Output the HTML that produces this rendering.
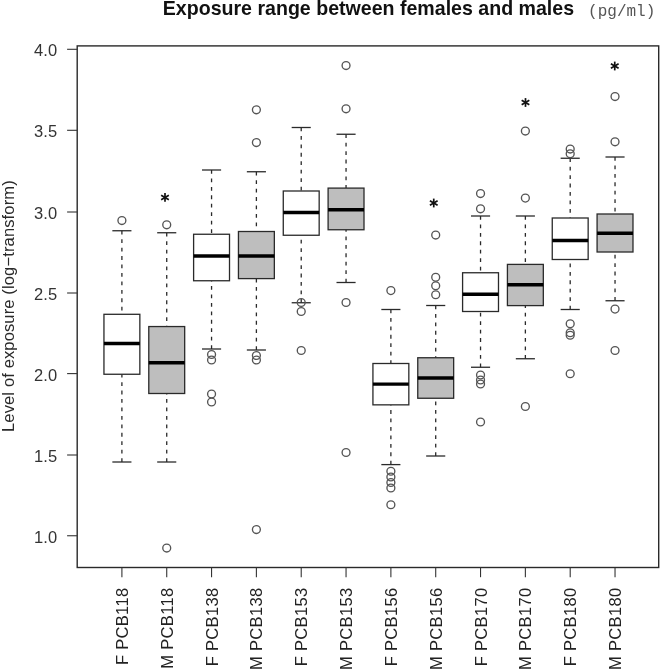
<!DOCTYPE html>
<html><head><meta charset="utf-8"><title>Exposure range between females and males</title>
<style>html,body{margin:0;padding:0;background:#fff;}body{width:660px;height:669px;overflow:hidden;}svg{display:block;will-change:transform;}text{font-family:"Liberation Sans",sans-serif;}</style></head><body>
<svg width="660" height="669" viewBox="0 0 660 669">
<rect x="0" y="0" width="660" height="669" fill="#fff"/>
<text id="title" x="368.45" y="15.4" text-anchor="middle" font-size="19.58" font-weight="bold" fill="#111">Exposure range between females and males</text>
<text id="unit" x="588.1" y="16.2" font-size="16" fill="#555" style="font-family:'Liberation Mono',monospace">(pg/ml)</text>
<text id="ylab" transform="translate(14.4,306.1) rotate(-90)" text-anchor="middle" font-size="16.5" letter-spacing="0.14" fill="#2a2a2a">Level of exposure (log−transform)</text>
<g>
<line x1="121.90" y1="230.75" x2="121.90" y2="314.3" stroke="#2a2a2a" stroke-width="1.3" stroke-dasharray="3.8 4.65"/>
<line x1="121.90" y1="462.0" x2="121.90" y2="374.25" stroke="#2a2a2a" stroke-width="1.3" stroke-dasharray="3.8 4.65"/>
<line x1="112.35" y1="230.75" x2="131.45" y2="230.75" stroke="#2a2a2a" stroke-width="1.3"/>
<line x1="112.35" y1="462.0" x2="131.45" y2="462.0" stroke="#2a2a2a" stroke-width="1.3"/>
<rect x="103.95" y="314.3" width="35.90" height="59.95" fill="#fff" stroke="#2a2a2a" stroke-width="1.3"/>
<line x1="103.95" y1="343.5" x2="139.85" y2="343.5" stroke="#000" stroke-width="3.4"/>
<circle cx="121.90" cy="220.5" r="3.95" fill="none" stroke="#555" stroke-width="1.35"/>
</g>
<g>
<line x1="166.73" y1="232.75" x2="166.73" y2="326.55" stroke="#2a2a2a" stroke-width="1.3" stroke-dasharray="3.8 4.65"/>
<line x1="166.73" y1="462.0" x2="166.73" y2="393.5" stroke="#2a2a2a" stroke-width="1.3" stroke-dasharray="3.8 4.65"/>
<line x1="157.18" y1="232.75" x2="176.28" y2="232.75" stroke="#2a2a2a" stroke-width="1.3"/>
<line x1="157.18" y1="462.0" x2="176.28" y2="462.0" stroke="#2a2a2a" stroke-width="1.3"/>
<rect x="148.78" y="326.55" width="35.90" height="66.95" fill="#bebebe" stroke="#2a2a2a" stroke-width="1.3"/>
<line x1="148.78" y1="362.75" x2="184.68" y2="362.75" stroke="#000" stroke-width="3.4"/>
<circle cx="166.73" cy="224.75" r="3.95" fill="none" stroke="#555" stroke-width="1.35"/>
<circle cx="166.73" cy="548.0" r="3.95" fill="none" stroke="#555" stroke-width="1.35"/>
<g class="star" stroke="#111" stroke-width="1.7" fill="none"><line x1="165.0" y1="193.0" x2="165.0" y2="201.8"/><line x1="161.15" y1="195.15" x2="168.85" y2="199.65"/><line x1="161.15" y1="199.65" x2="168.85" y2="195.15"/></g>
</g>
<g>
<line x1="211.56" y1="170.0" x2="211.56" y2="234.25" stroke="#2a2a2a" stroke-width="1.3" stroke-dasharray="3.8 4.65"/>
<line x1="211.56" y1="349.0" x2="211.56" y2="280.75" stroke="#2a2a2a" stroke-width="1.3" stroke-dasharray="3.8 4.65"/>
<line x1="202.01" y1="170.0" x2="221.11" y2="170.0" stroke="#2a2a2a" stroke-width="1.3"/>
<line x1="202.01" y1="349.0" x2="221.11" y2="349.0" stroke="#2a2a2a" stroke-width="1.3"/>
<rect x="193.61" y="234.25" width="35.90" height="46.50" fill="#fff" stroke="#2a2a2a" stroke-width="1.3"/>
<line x1="193.61" y1="256.0" x2="229.51" y2="256.0" stroke="#000" stroke-width="3.4"/>
<circle cx="211.56" cy="354.5" r="3.95" fill="none" stroke="#555" stroke-width="1.35"/>
<circle cx="211.56" cy="360.0" r="3.95" fill="none" stroke="#555" stroke-width="1.35"/>
<circle cx="211.56" cy="394.0" r="3.95" fill="none" stroke="#555" stroke-width="1.35"/>
<circle cx="211.56" cy="402.0" r="3.95" fill="none" stroke="#555" stroke-width="1.35"/>
</g>
<g>
<line x1="256.39" y1="171.75" x2="256.39" y2="231.5" stroke="#2a2a2a" stroke-width="1.3" stroke-dasharray="3.8 4.65"/>
<line x1="256.39" y1="350.0" x2="256.39" y2="278.6" stroke="#2a2a2a" stroke-width="1.3" stroke-dasharray="3.8 4.65"/>
<line x1="246.84" y1="171.75" x2="265.94" y2="171.75" stroke="#2a2a2a" stroke-width="1.3"/>
<line x1="246.84" y1="350.0" x2="265.94" y2="350.0" stroke="#2a2a2a" stroke-width="1.3"/>
<rect x="238.44" y="231.5" width="35.90" height="47.10" fill="#bebebe" stroke="#2a2a2a" stroke-width="1.3"/>
<line x1="238.44" y1="256.0" x2="274.34" y2="256.0" stroke="#000" stroke-width="3.4"/>
<circle cx="256.39" cy="109.75" r="3.95" fill="none" stroke="#555" stroke-width="1.35"/>
<circle cx="256.39" cy="142.5" r="3.95" fill="none" stroke="#555" stroke-width="1.35"/>
<circle cx="256.39" cy="355.5" r="3.95" fill="none" stroke="#555" stroke-width="1.35"/>
<circle cx="256.39" cy="360.0" r="3.95" fill="none" stroke="#555" stroke-width="1.35"/>
<circle cx="256.39" cy="529.5" r="3.95" fill="none" stroke="#555" stroke-width="1.35"/>
</g>
<g>
<line x1="301.22" y1="127.5" x2="301.22" y2="191.0" stroke="#2a2a2a" stroke-width="1.3" stroke-dasharray="3.8 4.65"/>
<line x1="301.22" y1="302.75" x2="301.22" y2="235.25" stroke="#2a2a2a" stroke-width="1.3" stroke-dasharray="3.8 4.65"/>
<line x1="291.67" y1="127.5" x2="310.77" y2="127.5" stroke="#2a2a2a" stroke-width="1.3"/>
<line x1="291.67" y1="302.75" x2="310.77" y2="302.75" stroke="#2a2a2a" stroke-width="1.3"/>
<rect x="283.27" y="191.0" width="35.90" height="44.25" fill="#fff" stroke="#2a2a2a" stroke-width="1.3"/>
<line x1="283.27" y1="212.5" x2="319.17" y2="212.5" stroke="#000" stroke-width="3.4"/>
<circle cx="301.22" cy="302.5" r="3.95" fill="none" stroke="#555" stroke-width="1.35"/>
<circle cx="301.22" cy="311.5" r="3.95" fill="none" stroke="#555" stroke-width="1.35"/>
<circle cx="301.22" cy="350.5" r="3.95" fill="none" stroke="#555" stroke-width="1.35"/>
</g>
<g>
<line x1="346.05" y1="134.25" x2="346.05" y2="188.1" stroke="#2a2a2a" stroke-width="1.3" stroke-dasharray="3.8 4.65"/>
<line x1="346.05" y1="282.5" x2="346.05" y2="229.75" stroke="#2a2a2a" stroke-width="1.3" stroke-dasharray="3.8 4.65"/>
<line x1="336.50" y1="134.25" x2="355.60" y2="134.25" stroke="#2a2a2a" stroke-width="1.3"/>
<line x1="336.50" y1="282.5" x2="355.60" y2="282.5" stroke="#2a2a2a" stroke-width="1.3"/>
<rect x="328.10" y="188.1" width="35.90" height="41.65" fill="#bebebe" stroke="#2a2a2a" stroke-width="1.3"/>
<line x1="328.10" y1="209.75" x2="364.00" y2="209.75" stroke="#000" stroke-width="3.4"/>
<circle cx="346.05" cy="65.5" r="3.95" fill="none" stroke="#555" stroke-width="1.35"/>
<circle cx="346.05" cy="108.75" r="3.95" fill="none" stroke="#555" stroke-width="1.35"/>
<circle cx="346.05" cy="302.5" r="3.95" fill="none" stroke="#555" stroke-width="1.35"/>
<circle cx="346.05" cy="452.5" r="3.95" fill="none" stroke="#555" stroke-width="1.35"/>
</g>
<g>
<line x1="390.88" y1="309.5" x2="390.88" y2="363.5" stroke="#2a2a2a" stroke-width="1.3" stroke-dasharray="3.8 4.65"/>
<line x1="390.88" y1="464.6" x2="390.88" y2="404.85" stroke="#2a2a2a" stroke-width="1.3" stroke-dasharray="3.8 4.65"/>
<line x1="381.33" y1="309.5" x2="400.43" y2="309.5" stroke="#2a2a2a" stroke-width="1.3"/>
<line x1="381.33" y1="464.6" x2="400.43" y2="464.6" stroke="#2a2a2a" stroke-width="1.3"/>
<rect x="372.93" y="363.5" width="35.90" height="41.35" fill="#fff" stroke="#2a2a2a" stroke-width="1.3"/>
<line x1="372.93" y1="384.1" x2="408.83" y2="384.1" stroke="#000" stroke-width="3.4"/>
<circle cx="390.88" cy="290.6" r="3.95" fill="none" stroke="#555" stroke-width="1.35"/>
<circle cx="390.88" cy="471.25" r="3.95" fill="none" stroke="#555" stroke-width="1.35"/>
<circle cx="390.88" cy="477.0" r="3.95" fill="none" stroke="#555" stroke-width="1.35"/>
<circle cx="390.88" cy="482.5" r="3.95" fill="none" stroke="#555" stroke-width="1.35"/>
<circle cx="390.88" cy="488.0" r="3.95" fill="none" stroke="#555" stroke-width="1.35"/>
<circle cx="390.88" cy="504.75" r="3.95" fill="none" stroke="#555" stroke-width="1.35"/>
</g>
<g>
<line x1="435.71" y1="305.5" x2="435.71" y2="357.75" stroke="#2a2a2a" stroke-width="1.3" stroke-dasharray="3.8 4.65"/>
<line x1="435.71" y1="456.0" x2="435.71" y2="398.25" stroke="#2a2a2a" stroke-width="1.3" stroke-dasharray="3.8 4.65"/>
<line x1="426.16" y1="305.5" x2="445.26" y2="305.5" stroke="#2a2a2a" stroke-width="1.3"/>
<line x1="426.16" y1="456.0" x2="445.26" y2="456.0" stroke="#2a2a2a" stroke-width="1.3"/>
<rect x="417.76" y="357.75" width="35.90" height="40.50" fill="#bebebe" stroke="#2a2a2a" stroke-width="1.3"/>
<line x1="417.76" y1="378.0" x2="453.66" y2="378.0" stroke="#000" stroke-width="3.4"/>
<circle cx="435.71" cy="235.0" r="3.95" fill="none" stroke="#555" stroke-width="1.35"/>
<circle cx="435.71" cy="277.25" r="3.95" fill="none" stroke="#555" stroke-width="1.35"/>
<circle cx="435.71" cy="285.75" r="3.95" fill="none" stroke="#555" stroke-width="1.35"/>
<circle cx="435.71" cy="294.75" r="3.95" fill="none" stroke="#555" stroke-width="1.35"/>
<g class="star" stroke="#111" stroke-width="1.7" fill="none"><line x1="433.75" y1="198.6" x2="433.75" y2="207.4"/><line x1="429.9" y1="200.75" x2="437.6" y2="205.25"/><line x1="429.9" y1="205.25" x2="437.6" y2="200.75"/></g>
</g>
<g>
<line x1="480.54" y1="216.0" x2="480.54" y2="272.75" stroke="#2a2a2a" stroke-width="1.3" stroke-dasharray="3.8 4.65"/>
<line x1="480.54" y1="367.25" x2="480.54" y2="311.5" stroke="#2a2a2a" stroke-width="1.3" stroke-dasharray="3.8 4.65"/>
<line x1="470.99" y1="216.0" x2="490.09" y2="216.0" stroke="#2a2a2a" stroke-width="1.3"/>
<line x1="470.99" y1="367.25" x2="490.09" y2="367.25" stroke="#2a2a2a" stroke-width="1.3"/>
<rect x="462.59" y="272.75" width="35.90" height="38.75" fill="#fff" stroke="#2a2a2a" stroke-width="1.3"/>
<line x1="462.59" y1="294.25" x2="498.49" y2="294.25" stroke="#000" stroke-width="3.4"/>
<circle cx="480.54" cy="193.5" r="3.95" fill="none" stroke="#555" stroke-width="1.35"/>
<circle cx="480.54" cy="208.75" r="3.95" fill="none" stroke="#555" stroke-width="1.35"/>
<circle cx="480.54" cy="375.0" r="3.95" fill="none" stroke="#555" stroke-width="1.35"/>
<circle cx="480.54" cy="380.0" r="3.95" fill="none" stroke="#555" stroke-width="1.35"/>
<circle cx="480.54" cy="384.0" r="3.95" fill="none" stroke="#555" stroke-width="1.35"/>
<circle cx="480.54" cy="422.0" r="3.95" fill="none" stroke="#555" stroke-width="1.35"/>
</g>
<g>
<line x1="525.37" y1="216.0" x2="525.37" y2="264.4" stroke="#2a2a2a" stroke-width="1.3" stroke-dasharray="3.8 4.65"/>
<line x1="525.37" y1="358.75" x2="525.37" y2="305.6" stroke="#2a2a2a" stroke-width="1.3" stroke-dasharray="3.8 4.65"/>
<line x1="515.82" y1="216.0" x2="534.92" y2="216.0" stroke="#2a2a2a" stroke-width="1.3"/>
<line x1="515.82" y1="358.75" x2="534.92" y2="358.75" stroke="#2a2a2a" stroke-width="1.3"/>
<rect x="507.42" y="264.4" width="35.90" height="41.20" fill="#bebebe" stroke="#2a2a2a" stroke-width="1.3"/>
<line x1="507.42" y1="284.8" x2="543.32" y2="284.8" stroke="#000" stroke-width="3.4"/>
<circle cx="525.37" cy="131.0" r="3.95" fill="none" stroke="#555" stroke-width="1.35"/>
<circle cx="525.37" cy="198.1" r="3.95" fill="none" stroke="#555" stroke-width="1.35"/>
<circle cx="525.37" cy="406.5" r="3.95" fill="none" stroke="#555" stroke-width="1.35"/>
<g class="star" stroke="#111" stroke-width="1.7" fill="none"><line x1="525.5" y1="98.1" x2="525.5" y2="106.9"/><line x1="521.65" y1="100.25" x2="529.35" y2="104.75"/><line x1="521.65" y1="104.75" x2="529.35" y2="100.25"/></g>
</g>
<g>
<line x1="570.20" y1="158.25" x2="570.20" y2="218.0" stroke="#2a2a2a" stroke-width="1.3" stroke-dasharray="3.8 4.65"/>
<line x1="570.20" y1="309.5" x2="570.20" y2="259.5" stroke="#2a2a2a" stroke-width="1.3" stroke-dasharray="3.8 4.65"/>
<line x1="560.65" y1="158.25" x2="579.75" y2="158.25" stroke="#2a2a2a" stroke-width="1.3"/>
<line x1="560.65" y1="309.5" x2="579.75" y2="309.5" stroke="#2a2a2a" stroke-width="1.3"/>
<rect x="552.25" y="218.0" width="35.90" height="41.50" fill="#fff" stroke="#2a2a2a" stroke-width="1.3"/>
<line x1="552.25" y1="240.5" x2="588.15" y2="240.5" stroke="#000" stroke-width="3.4"/>
<circle cx="570.20" cy="149.0" r="3.95" fill="none" stroke="#555" stroke-width="1.35"/>
<circle cx="570.20" cy="153.75" r="3.95" fill="none" stroke="#555" stroke-width="1.35"/>
<circle cx="570.20" cy="323.75" r="3.95" fill="none" stroke="#555" stroke-width="1.35"/>
<circle cx="570.20" cy="332.75" r="3.95" fill="none" stroke="#555" stroke-width="1.35"/>
<circle cx="570.20" cy="335.25" r="3.95" fill="none" stroke="#555" stroke-width="1.35"/>
<circle cx="570.20" cy="373.75" r="3.95" fill="none" stroke="#555" stroke-width="1.35"/>
</g>
<g>
<line x1="615.03" y1="157.0" x2="615.03" y2="214.0" stroke="#2a2a2a" stroke-width="1.3" stroke-dasharray="3.8 4.65"/>
<line x1="615.03" y1="300.75" x2="615.03" y2="252.0" stroke="#2a2a2a" stroke-width="1.3" stroke-dasharray="3.8 4.65"/>
<line x1="605.48" y1="157.0" x2="624.58" y2="157.0" stroke="#2a2a2a" stroke-width="1.3"/>
<line x1="605.48" y1="300.75" x2="624.58" y2="300.75" stroke="#2a2a2a" stroke-width="1.3"/>
<rect x="597.08" y="214.0" width="35.90" height="38.00" fill="#bebebe" stroke="#2a2a2a" stroke-width="1.3"/>
<line x1="597.08" y1="233.25" x2="632.98" y2="233.25" stroke="#000" stroke-width="3.4"/>
<circle cx="615.03" cy="96.5" r="3.95" fill="none" stroke="#555" stroke-width="1.35"/>
<circle cx="615.03" cy="141.75" r="3.95" fill="none" stroke="#555" stroke-width="1.35"/>
<circle cx="615.03" cy="309.1" r="3.95" fill="none" stroke="#555" stroke-width="1.35"/>
<circle cx="615.03" cy="350.5" r="3.95" fill="none" stroke="#555" stroke-width="1.35"/>
<g class="star" stroke="#111" stroke-width="1.7" fill="none"><line x1="614.75" y1="61.6" x2="614.75" y2="70.4"/><line x1="610.9" y1="63.75" x2="618.6" y2="68.25"/><line x1="610.9" y1="68.25" x2="618.6" y2="63.75"/></g>
</g>
<rect x="77.2" y="45.9" width="581.50" height="521.60" fill="none" stroke="#2a2a2a" stroke-width="1.4"/>
<line x1="67.1" y1="49.30" x2="77.2" y2="49.30" stroke="#333" stroke-width="1.1"/>
<text class="yt" x="57.2" y="56.20" text-anchor="end" font-size="16.5" letter-spacing="0.1" fill="#333">4.0</text>
<line x1="67.1" y1="130.30" x2="77.2" y2="130.30" stroke="#333" stroke-width="1.1"/>
<text class="yt" x="57.2" y="137.20" text-anchor="end" font-size="16.5" letter-spacing="0.1" fill="#333">3.5</text>
<line x1="67.1" y1="212.00" x2="77.2" y2="212.00" stroke="#333" stroke-width="1.1"/>
<text class="yt" x="57.2" y="218.90" text-anchor="end" font-size="16.5" letter-spacing="0.1" fill="#333">3.0</text>
<line x1="67.1" y1="293.00" x2="77.2" y2="293.00" stroke="#333" stroke-width="1.1"/>
<text class="yt" x="57.2" y="299.90" text-anchor="end" font-size="16.5" letter-spacing="0.1" fill="#333">2.5</text>
<line x1="67.1" y1="373.60" x2="77.2" y2="373.60" stroke="#333" stroke-width="1.1"/>
<text class="yt" x="57.2" y="380.50" text-anchor="end" font-size="16.5" letter-spacing="0.1" fill="#333">2.0</text>
<line x1="67.1" y1="455.00" x2="77.2" y2="455.00" stroke="#333" stroke-width="1.1"/>
<text class="yt" x="57.2" y="461.90" text-anchor="end" font-size="16.5" letter-spacing="0.1" fill="#333">1.5</text>
<line x1="67.1" y1="535.75" x2="77.2" y2="535.75" stroke="#333" stroke-width="1.1"/>
<text class="yt" x="57.2" y="542.65" text-anchor="end" font-size="16.5" letter-spacing="0.1" fill="#333">1.0</text>
<line x1="121.90" y1="567.5" x2="121.90" y2="577.2" stroke="#333" stroke-width="1.1"/>
<text class="xt" transform="translate(127.90,587.6) rotate(-90)" text-anchor="end" font-size="16.5" letter-spacing="0.32" fill="#222">F PCB118</text>
<line x1="166.73" y1="567.5" x2="166.73" y2="577.2" stroke="#333" stroke-width="1.1"/>
<text class="xt" transform="translate(172.73,587.6) rotate(-90)" text-anchor="end" font-size="16.5" letter-spacing="0.32" fill="#222">M PCB118</text>
<line x1="211.56" y1="567.5" x2="211.56" y2="577.2" stroke="#333" stroke-width="1.1"/>
<text class="xt" transform="translate(217.56,587.6) rotate(-90)" text-anchor="end" font-size="16.5" letter-spacing="0.32" fill="#222">F PCB138</text>
<line x1="256.39" y1="567.5" x2="256.39" y2="577.2" stroke="#333" stroke-width="1.1"/>
<text class="xt" transform="translate(262.39,587.6) rotate(-90)" text-anchor="end" font-size="16.5" letter-spacing="0.32" fill="#222">M PCB138</text>
<line x1="301.22" y1="567.5" x2="301.22" y2="577.2" stroke="#333" stroke-width="1.1"/>
<text class="xt" transform="translate(307.22,587.6) rotate(-90)" text-anchor="end" font-size="16.5" letter-spacing="0.32" fill="#222">F PCB153</text>
<line x1="346.05" y1="567.5" x2="346.05" y2="577.2" stroke="#333" stroke-width="1.1"/>
<text class="xt" transform="translate(352.05,587.6) rotate(-90)" text-anchor="end" font-size="16.5" letter-spacing="0.32" fill="#222">M PCB153</text>
<line x1="390.88" y1="567.5" x2="390.88" y2="577.2" stroke="#333" stroke-width="1.1"/>
<text class="xt" transform="translate(396.88,587.6) rotate(-90)" text-anchor="end" font-size="16.5" letter-spacing="0.32" fill="#222">F PCB156</text>
<line x1="435.71" y1="567.5" x2="435.71" y2="577.2" stroke="#333" stroke-width="1.1"/>
<text class="xt" transform="translate(441.71,587.6) rotate(-90)" text-anchor="end" font-size="16.5" letter-spacing="0.32" fill="#222">M PCB156</text>
<line x1="480.54" y1="567.5" x2="480.54" y2="577.2" stroke="#333" stroke-width="1.1"/>
<text class="xt" transform="translate(486.54,587.6) rotate(-90)" text-anchor="end" font-size="16.5" letter-spacing="0.32" fill="#222">F PCB170</text>
<line x1="525.37" y1="567.5" x2="525.37" y2="577.2" stroke="#333" stroke-width="1.1"/>
<text class="xt" transform="translate(531.37,587.6) rotate(-90)" text-anchor="end" font-size="16.5" letter-spacing="0.32" fill="#222">M PCB170</text>
<line x1="570.20" y1="567.5" x2="570.20" y2="577.2" stroke="#333" stroke-width="1.1"/>
<text class="xt" transform="translate(576.20,587.6) rotate(-90)" text-anchor="end" font-size="16.5" letter-spacing="0.32" fill="#222">F PCB180</text>
<line x1="615.03" y1="567.5" x2="615.03" y2="577.2" stroke="#333" stroke-width="1.1"/>
<text class="xt" transform="translate(621.03,587.6) rotate(-90)" text-anchor="end" font-size="16.5" letter-spacing="0.32" fill="#222">M PCB180</text>
</svg></body></html>
